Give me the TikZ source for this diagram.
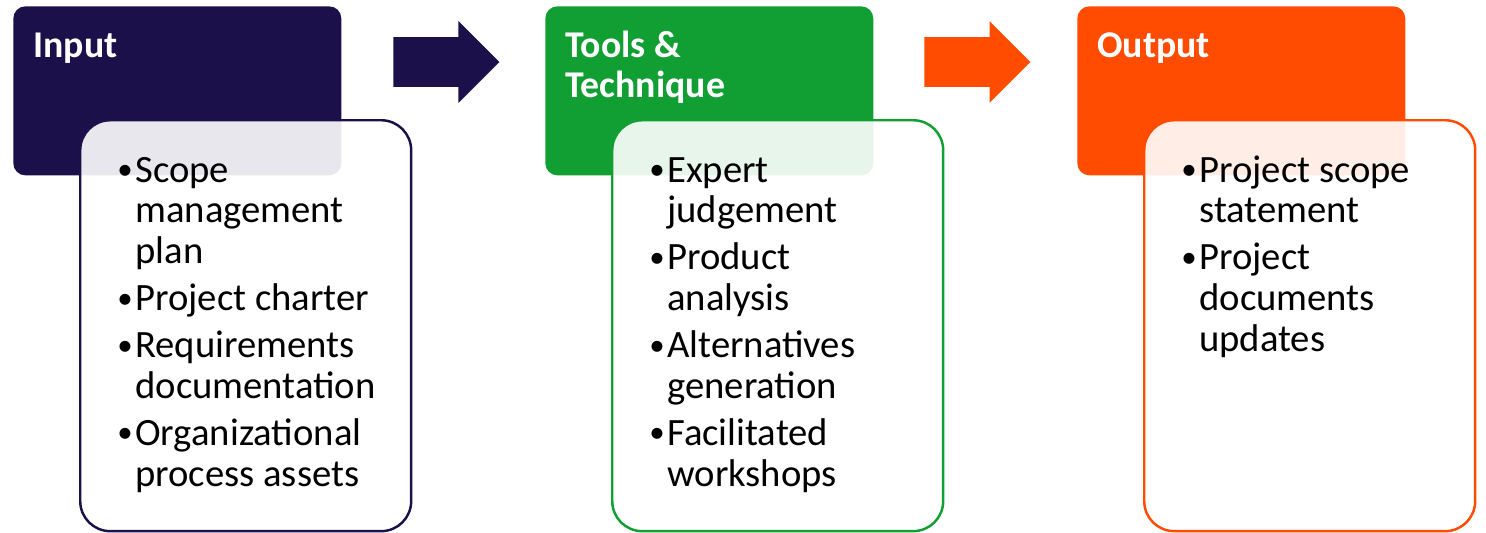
\documentclass[tikz,border=0pt]{standalone}
\usepackage{fontspec}
\setmainfont{Carlito}
\usetikzlibrary{positioning,calc,shapes.arrows}

\definecolor{navy}{RGB}{28,16,74}
\definecolor{leaf}{RGB}{17,158,51}
\definecolor{blaze}{RGB}{255,76,0}

\newcommand{\bl}{\makebox[0.36cm][l]{\raisebox{1.5pt}{\scalebox{0.8}{\textbullet}}}}

\tikzset{
  head/.style={fill=#1, rounded corners=0.24cm, minimum width=6.56cm, minimum height=3.38cm, anchor=north west, inner sep=0pt},
  body/.style={draw=#1, line width=1.4pt, fill=white, fill opacity=0.9, rounded corners=0.6cm, minimum width=6.62cm, minimum height=8.22cm, anchor=north west, inner sep=0pt},
  title/.style={text=white, font=\fontsize{21.5}{22.8}\selectfont\bfseries, anchor=base west, inner sep=0pt},
  items/.style={font=\fontsize{22}{23.3}\selectfont, anchor=base west, inner sep=0pt},
  flow/.style={single arrow, fill=#1, minimum height=2.12cm, inner xsep=0pt, inner ysep=0.49cm, single arrow head extend=0.32cm, anchor=tail}
}

\begin{document}
\begin{tikzpicture}[x=0.02cm,y=-0.02cm]

\useasboundingbox (0,0) rectangle (1486,532);

% input
\node[head=navy] (inhead) at (13,6) {};
\node[title] (intitle) at (33,57) {Input};
\node[body=navy] (inbody) at (79,119) {};
\node[items] (inlist) at (117,182) {\begin{tabular}[t]{@{}l@{}l@{}}
\bl & Scope\\ & management\\ & plan\\[3.4pt]
\bl & Project charter\\[3.4pt]
\bl & Requirements\\ & documentation\\[3.4pt]
\bl & Organizational\\ & process assets
\end{tabular}};

% tools
\node[head=leaf] (tthead) at (545,6) {};
\node[title] (tttitle) at (565,57) {\begin{tabular}[t]{@{}l@{}}Tools \&\\Technique\end{tabular}};
\node[body=leaf] (ttbody) at (611,119) {};
\node[items] (ttlist) at (649,182) {\begin{tabular}[t]{@{}l@{}l@{}}
\bl & Expert\\ & judgement\\[3.4pt]
\bl & Product\\ & analysis\\[3.4pt]
\bl & Alternatives\\ & generation\\[3.4pt]
\bl & Facilitated\\ & workshops
\end{tabular}};

% output
\node[head=blaze] (outhead) at (1077,6) {};
\node[title] (outtitle) at (1097,57) {Output};
\node[body=blaze] (outbody) at (1143,119) {};
\node[items] (outlist) at (1181,182) {\begin{tabular}[t]{@{}l@{}l@{}}
\bl & Project scope\\ & statement\\[3.4pt]
\bl & Project\\ & documents\\ & updates
\end{tabular}};

% arrows
\node[flow=navy] (arr1) at (393,62) {};
\node[flow=blaze] (arr2) at (924,62) {};

\end{tikzpicture}
\end{document}
